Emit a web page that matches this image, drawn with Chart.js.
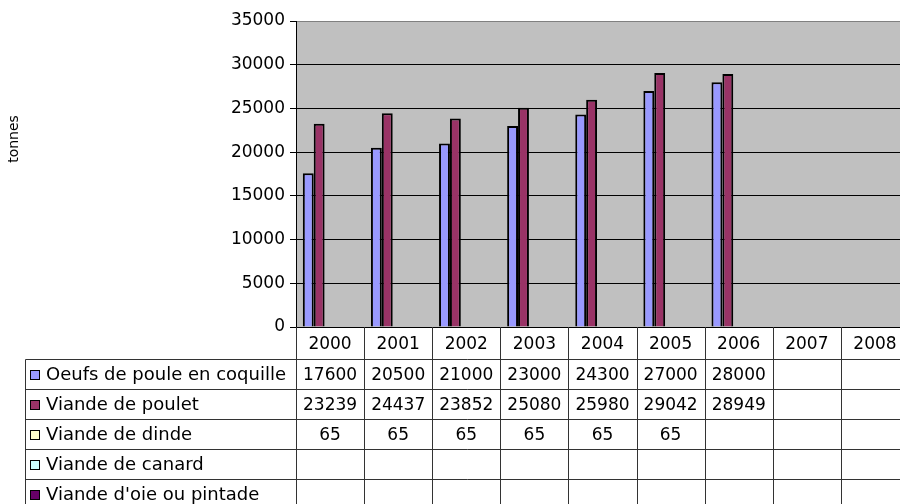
<!DOCTYPE html>
<html>
<head>
<meta charset="utf-8">
<script src="https://cdn.jsdelivr.net/npm/chart.js@4"></script>
<style>
  html, body { margin: 0; padding: 0; background: #fff; overflow: hidden; width: 900px; height: 504px; }
  #c { display: block; }
</style>
</head>
<body>
<canvas id="c" width="920" height="504" style="width:920px;height:504px"></canvas>
<script>
// Excel-style clustered columns with a data table underneath.
const YEARS = ['2000', '2001', '2002', '2003', '2004', '2005', '2006', '2007', '2008'];
const SERIES_NAMES = ['Oeufs de poule en coquille', 'Viande de poulet', 'Viande de dinde', 'Viande de canard', "Viande d'oie ou pintade"];
const OEUFS = [17600, 20500, 21000, 23000, 24300, 27000, 28000, null, null];
const POULET = [23239, 24437, 23852, 25080, 25980, 29042, 28949, null, null];
const DINDE = [65, 65, 65, 65, 65, 65, null, null, null];
const CANARD = [null, null, null, null, null, null, null, null, null];
const OIE = [null, null, null, null, null, null, null, null, null];
const Y_MAX = 35000, Y_STEP = 5000;
const Y_TITLE = 'tonnes';

const COLORS = ['#9999FF', '#993366', '#FFFFCC', '#CCFFFF', '#660066'];
const SERIES = [OEUFS, POULET, DINDE, CANARD, OIE];

const FONT = 'DejaVu Sans';
const fmt = v => (v == null ? '' : String(v));

// table geometry (below the plot)
const TABLE_LEFT = 25.5;
const HEADER_BOTTOM = 359.5;
const ROW_H = 30;

const tablePlugin = {
  id: 'dataTable',
  beforeDraw(chart) {
    const { ctx, chartArea: a } = chart;
    ctx.save();
    ctx.fillStyle = '#C0C0C0';
    ctx.fillRect(a.left, a.top, a.right - a.left, a.bottom - a.top);
    ctx.restore();
  },
  afterDraw(chart) {
    const { ctx, chartArea: a } = chart;
    const x = chart.scales.x;
    const n = YEARS.length;
    const step = (x.right - x.left) / n;
    const bottom = chart.height;
    ctx.save();

    // grid lines of the table
    ctx.strokeStyle = '#333';
    ctx.lineWidth = 1;
    ctx.beginPath();
    for (let i = 0; i <= n; i++) {
      const px = Math.round(x.left + i * step) + 0.5;
      ctx.moveTo(px, a.bottom);
      ctx.lineTo(px, bottom);
    }
    ctx.moveTo(TABLE_LEFT, HEADER_BOTTOM);
    ctx.lineTo(TABLE_LEFT, bottom);
    for (let r = 0; r < SERIES.length; r++) {
      const py = HEADER_BOTTOM + r * ROW_H;
      ctx.moveTo(TABLE_LEFT, py);
      ctx.lineTo(x.right, py);
    }
    ctx.stroke();

    // header: years
    ctx.fillStyle = '#000';
    ctx.textAlign = 'center';
    ctx.textBaseline = 'middle';
    ctx.font = '17px "' + FONT + '"';
    YEARS.forEach((y, i) => {
      ctx.fillText(y, x.getPixelForValue(i), (a.bottom + HEADER_BOTTOM) / 2 + 1);
    });

    // rows
    SERIES.forEach((vals, r) => {
      const cy = HEADER_BOTTOM + r * ROW_H + ROW_H / 2;
      // legend key
      ctx.fillStyle = COLORS[r];
      ctx.fillRect(30, Math.round(cy - 5), 10, 10);
      ctx.strokeStyle = '#000';
      ctx.strokeRect(30.5, Math.round(cy - 5) + 0.5, 9, 9);
      ctx.fillStyle = '#000';
      ctx.textAlign = 'left';
      ctx.font = '18px "' + FONT + '"';
      ctx.fillText(SERIES_NAMES[r], 46, cy + 1);
      ctx.textAlign = 'center';
      ctx.font = '17px "' + FONT + '"';
      vals.forEach((v, i) => ctx.fillText(fmt(v), x.getPixelForValue(i), cy + 1));
    });

    // axis title
    ctx.translate(14, 139);
    ctx.rotate(-Math.PI / 2);
    ctx.font = '14px "' + FONT + '"';
    ctx.textAlign = 'center';
    ctx.fillText(Y_TITLE, 0, 0);
    ctx.restore();
  }
};

new Chart(document.getElementById('c'), {
  type: 'bar',
  data: {
    labels: YEARS,
    datasets: SERIES.map((vals, i) => ({
      label: SERIES_NAMES[i],
      data: vals,
      backgroundColor: COLORS[i],
      borderColor: '#000',
      borderWidth: 2,
      categoryPercentage: 0.8,
      barPercentage: 1
    }))
  },
  options: {
    responsive: false,
    animation: false,
    layout: { padding: { left: 0, top: 21, right: 11, bottom: 177 } },
    plugins: { legend: { display: false }, tooltip: { enabled: false } },
    scales: {
      x: { display: false },
      y: {
        min: 0, max: Y_MAX,
        ticks: { stepSize: Y_STEP, padding: 5, color: '#000', font: { family: FONT, size: 17 }, callback: v => String(v) },
        grid: {
          color: c => (c.tick && c.tick.value === Y_MAX ? '#808080' : '#000'),
          tickColor: '#000',
          tickLength: 6,
          lineWidth: 1
        },
        border: { display: true, color: '#000', width: 1 },
        afterFit: s => { s.width = 296; }
      }
    }
  },
  plugins: [tablePlugin]
});
</script>
</body>
</html>
